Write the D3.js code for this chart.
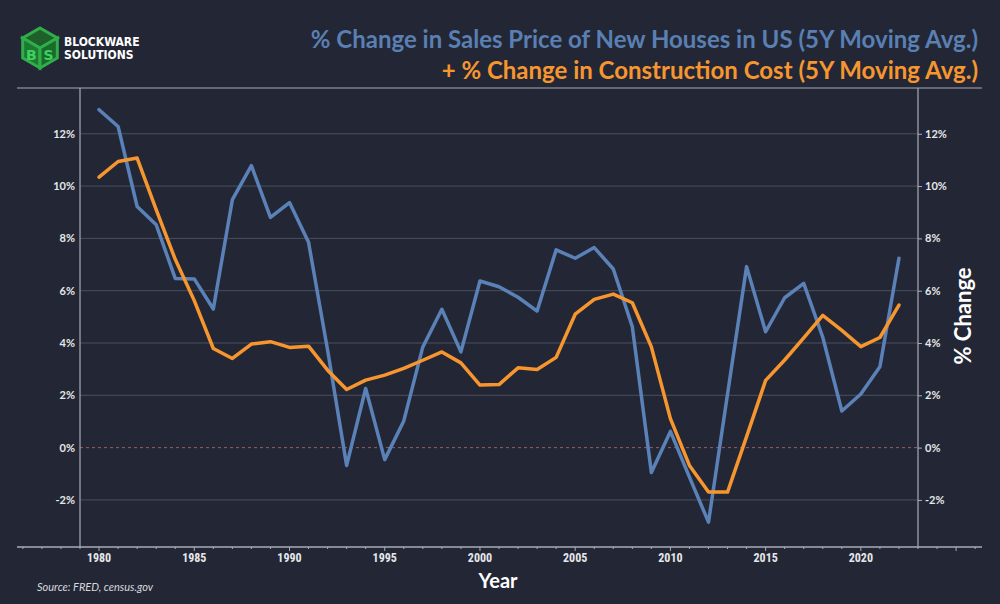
<!DOCTYPE html>
<html>
<head>
<meta charset="utf-8">
<script src="https://cdn.jsdelivr.net/npm/d3@7"></script>
<style>
  html, body { margin: 0; padding: 0; background: #232735; }
  svg { display: block; }
</style>
</head>
<body>
<div id="chart"></div>
<script>
const width = 1000;
const height = 604;

// data
const years = d3.range(1980, 2023);
const salesPrice = [12.92, 12.28, 9.22, 8.52, 6.47, 6.45, 5.30, 9.48, 10.78, 8.80,
  9.37, 7.85, 3.73, -0.68, 2.26, -0.46, 1.02, 3.85, 5.29, 3.66,
  6.37, 6.15, 5.75, 5.22, 7.56, 7.24, 7.65, 6.83, 4.62, -0.95,
  0.62, -1.13, -2.85, 2.05, 6.92, 4.43, 5.73, 6.28, 4.22, 1.40,
  2.05, 3.09, 7.24];
const constructionCost = [10.34, 10.94, 11.07, 9.10, 7.20, 5.62, 3.79, 3.41, 3.96, 4.05,
  3.83, 3.88, 2.96, 2.22, 2.58, 2.77, 3.03, 3.34, 3.66, 3.24,
  2.39, 2.41, 3.05, 2.99, 3.45, 5.10, 5.67, 5.87, 5.54, 3.85,
  1.11, -0.68, -1.70, -1.70, 0.42, 2.57, 3.35, 4.20, 5.06, 4.48,
  3.86, 4.21, 5.45];
const yTicks = [-2, 0, 2, 4, 6, 8, 10, 12];
const xTickLabels = [1980, 1985, 1990, 1995, 2000, 2005, 2010, 2015, 2020];

const bg = "#232735";
const blue = "#5a82b8";
const orange = "#f7962f";
const grid = "#4a4f5e";
const axisCol = "#a9acb5";

const svg = d3.select("#chart").append("svg")
    .attr("width", width)
    .attr("height", height);

svg.append("rect").attr("width", width).attr("height", height).attr("fill", bg);

const x = d3.scaleLinear().domain([1979, 2023]).range([80, 918]);
const y = d3.scaleLinear().domain([-3.8, 13.75]).range([547, 88]);

// gridlines
svg.append("g")
  .selectAll("line")
  .data(yTicks.filter(d => d !== 0))
  .join("line")
    .attr("x1", 80).attr("x2", 918)
    .attr("y1", d => y(d)).attr("y2", d => y(d))
    .attr("stroke", grid).attr("stroke-width", 1);

// zero line
svg.append("line")
    .attr("x1", 80).attr("x2", 918)
    .attr("y1", y(0)).attr("y2", y(0))
    .attr("stroke", "#9c5c60").attr("stroke-width", 1)
    .attr("stroke-dasharray", "3,3");

// frame lines
svg.append("line").attr("x1", 17).attr("x2", 982).attr("y1", 88).attr("y2", 88)
    .attr("stroke", axisCol).attr("stroke-width", 1.2);
svg.append("line").attr("x1", 80).attr("x2", 80).attr("y1", 88).attr("y2", 547)
    .attr("stroke", axisCol).attr("stroke-width", 1.2);
svg.append("line").attr("x1", 918).attr("x2", 918).attr("y1", 88).attr("y2", 547)
    .attr("stroke", axisCol).attr("stroke-width", 1.2);

// left axis
const yLeft = svg.append("g")
    .attr("transform", "translate(80,0)")
    .call(d3.axisLeft(y).tickValues(yTicks).tickSize(0).tickPadding(5).tickFormat(d => d + "%"));
yLeft.select(".domain").remove();

// right axis
const yRight = svg.append("g")
    .attr("transform", "translate(918,0)")
    .call(d3.axisRight(y).tickValues(yTicks).tickSize(4).tickPadding(3).tickFormat(d => d + "%"));
yRight.select(".domain").remove();
yRight.selectAll("line").attr("stroke", axisCol);

svg.selectAll(".tick text")
    .attr("fill", "#e6e7ea")
    .style("font-family", "Lato, 'Open Sans', sans-serif")
    .style("font-size", "11px")
    .style("font-weight", "700");

// bottom axis
svg.append("line").attr("x1", 17).attr("x2", 982).attr("y1", 547).attr("y2", 547)
    .attr("stroke", axisCol).attr("stroke-width", 1.5);
svg.append("g")
  .selectAll("line")
  .data(d3.range(1976, 2027))
  .join("line")
    .attr("x1", d => x(d)).attr("x2", d => x(d))
    .attr("y1", 547)
    .attr("y2", d => d % 5 === 0 ? 551 : 549)
    .attr("stroke", axisCol).attr("stroke-width", 1);
svg.append("g")
  .selectAll("text")
  .data(xTickLabels)
  .join("text")
    .attr("x", d => x(d))
    .attr("y", 562)
    .attr("text-anchor", "middle")
    .attr("fill", "#e6e7ea")
    .style("font-family", "'Liberation Sans Narrow', 'Roboto Condensed', Lato, sans-serif")
    .style("font-size", "12px")
    .style("font-weight", "700")
    .text(d => d);

// lines
const lineGen = d3.line()
    .x((d, i) => x(years[i]))
    .y(d => y(d));

svg.append("path")
    .datum(salesPrice)
    .attr("fill", "none")
    .attr("stroke", blue)
    .attr("stroke-width", 3.5)
    .attr("stroke-linejoin", "round")
    .attr("stroke-linecap", "round")
    .attr("d", lineGen);

svg.append("path")
    .datum(constructionCost)
    .attr("fill", "none")
    .attr("stroke", orange)
    .attr("stroke-width", 3.5)
    .attr("stroke-linejoin", "round")
    .attr("stroke-linecap", "round")
    .attr("d", lineGen);

// titles
svg.append("text")
    .attr("x", 978).attr("y", 48)
    .attr("text-anchor", "end")
    .attr("fill", "#5a7fb2")
    .style("font-family", "Lato, sans-serif")
    .style("font-size", "24px")
    .style("font-weight", "700")
    .text("% Change in Sales Price of New Houses in US (5Y Moving Avg.)");
svg.append("text")
    .attr("x", 978).attr("y", 79)
    .attr("text-anchor", "end")
    .attr("fill", orange)
    .style("font-family", "Lato, sans-serif")
    .style("font-size", "24px")
    .style("font-weight", "700")
    .text("+ % Change in Construction Cost (5Y Moving Avg.)");

// axis titles
svg.append("text")
    .attr("x", 498).attr("y", 588)
    .attr("text-anchor", "middle")
    .attr("fill", "#ffffff")
    .style("font-family", "Lato, sans-serif")
    .style("font-size", "20px")
    .style("font-weight", "700")
    .text("Year");

svg.append("text")
    .attr("transform", "translate(971,316) rotate(-90)")
    .attr("text-anchor", "middle")
    .attr("fill", "#ffffff")
    .style("font-family", "Lato, sans-serif")
    .style("font-size", "22px")
    .style("font-weight", "700")
    .text("% Change");

svg.append("text")
    .attr("x", 37).attr("y", 591)
    .attr("fill", "#d8d9dd")
    .style("font-family", "'Liberation Sans Narrow', Lato, sans-serif")
    .style("font-size", "11px")
    .style("font-style", "italic")
    .text("Source: FRED, census.gov");

// logo
const logo = svg.append("g").attr("transform", "translate(40,48)");
const s = 20;
const hx = s * Math.cos(Math.PI / 6), hy = s / 2;
logo.append("path")
    .attr("d", `M0,${-s} L${hx},${-hy} L0,0 L${-hx},${-hy} Z`)
    .attr("fill", "#1f5f2c").attr("stroke", "#2fae4a").attr("stroke-width", 3);
logo.append("path")
    .attr("d", `M${-hx},${-hy} L0,0 L0,${s} L${-hx},${hy} Z`)
    .attr("fill", "#1d7a32").attr("stroke", "#2fae4a").attr("stroke-width", 3);
logo.append("path")
    .attr("d", `M${hx},${-hy} L0,0 L0,${s} L${hx},${hy} Z`)
    .attr("fill", "#1a6a2c").attr("stroke", "#2fae4a").attr("stroke-width", 3);
logo.append("text")
    .attr("x", -hx / 2).attr("y", 12)
    .attr("text-anchor", "middle")
    .attr("fill", "#3fd060")
    .style("font-family", "'DejaVu Sans', sans-serif")
    .style("font-size", "14px")
    .style("font-weight", "700")
    .text("B");
logo.append("text")
    .attr("x", hx / 2).attr("y", 12)
    .attr("text-anchor", "middle")
    .attr("fill", "#3fd060")
    .style("font-family", "'DejaVu Sans', sans-serif")
    .style("font-size", "14px")
    .style("font-weight", "700")
    .text("S");

svg.append("text")
    .attr("x", 64).attr("y", 46)
    .attr("fill", "#ffffff")
    .style("font-family", "'Liberation Sans Narrow', 'DejaVu Sans Condensed', sans-serif")
    .style("font-size", "12px")
    .style("font-weight", "700")
    .text("BLOCKWARE");
svg.append("text")
    .attr("x", 64).attr("y", 59)
    .attr("fill", "#ffffff")
    .style("font-family", "'Liberation Sans Narrow', 'DejaVu Sans Condensed', sans-serif")
    .style("font-size", "12px")
    .style("font-weight", "700")
    .text("SOLUTIONS");
</script>
</body>
</html>
